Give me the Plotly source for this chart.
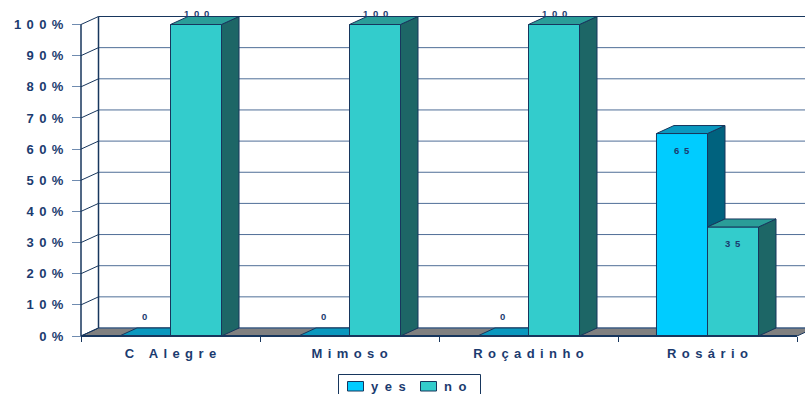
import plotly.graph_objects as go

# ---------------- data ----------------
categories = ["C Alegre", "Mimoso", "Roçadinho", "Rosário"]
yes_values = [0, 0, 0, 65]
no_values = [100, 100, 100, 35]
series_names = ["yes", "no"]
y_ticks = [0, 10, 20, 30, 40, 50, 60, 70, 80, 90, 100]
y_tick_labels = [f"{v}%" for v in y_ticks]

# ---------------- style ----------------
FONT = "Liberation Sans, Arial, sans-serif"
TXT = "#1B3B6F"
NAVY = "#17365D"
GRID = "#4F6E97"
TICK = "#6F8BB0"
YES_FRONT, YES_TOP, YES_SIDE = "#00CCFF", "#0A98BF", "#00627E"
NO_FRONT, NO_TOP, NO_SIDE = "#33CCCC", "#2A9D98", "#1D6666"
FLOOR = "#808080"

W, H = 805, 394
PL, PR, PT, PB = 60, 0, 8, 54
X_PX, Y_PX = 179.0, 3.115      # pixels per category / per percent
X0_PX, Y0_PX = 81, 336         # pixel of front-left corner (x=-0.5, y=0)
plot_w, plot_h = W - PL - PR, H - PT - PB
xr = [-0.5 - (X0_PX - PL) / X_PX, -0.5 + (W - PR - X0_PX) / X_PX]
yr = [-(H - PB - Y0_PX) / Y_PX, (Y0_PX - PT) / Y_PX]
DX, DY = 17.5 / X_PX, 8 / Y_PX  # 3-D depth offset
BW = 0.285                      # bar width (category units)
n = len(categories)
idx = list(range(n))

GAP = "\u2005\u2006"


def sp(s, gap=GAP):
    return gap.join(s)


def px_x(p):
    return (p - PL) / plot_w


def px_y(p):
    return (H - PB - p) / plot_h


fig = go.Figure()

# front faces
fig.add_bar(x=idx, y=yes_values, width=BW, offset=-BW, name=series_names[0],
            marker=dict(color=YES_FRONT, line=dict(color=NAVY, width=1)),
            showlegend=False, hoverinfo="skip")
fig.add_bar(x=idx, y=no_values, width=BW, offset=0, name=series_names[1],
            marker=dict(color=NO_FRONT, line=dict(color=NAVY, width=1)),
            showlegend=False, hoverinfo="skip")


def face(xs, ys, color):
    fig.add_scatter(x=xs + [xs[0]], y=ys + [ys[0]], mode="lines", fill="toself",
                    fillcolor=color, line=dict(color=NAVY, width=1),
                    showlegend=False, hoverinfo="skip")


for i in idx:
    a, b = yes_values[i], no_values[i]
    x0, x1, x2 = i - BW, i, i + BW
    # yes bar: side (visible part above the neighbouring "no" bar)
    if a > b:
        face([x1, x1, x1 + DX, x1 + DX], [b, a, a + DY, b + DY], YES_SIDE)
    # yes bar: top
    if b >= a + DY:
        face([x0, x1, x1, x0 + DX], [a, a, a + DY, a + DY], YES_TOP)
    else:
        face([x0, x1, x1 + DX, x0 + DX], [a, a, a + DY, a + DY], YES_TOP)
    # no bar: side and top
    face([x2, x2, x2 + DX, x2 + DX], [0, b, b + DY, DY], NO_SIDE)
    face([x1, x2, x2 + DX, x1 + DX], [b, b, b + DY, b + DY], NO_TOP)

shapes = []
xl = -0.5
xend = n - 0.5
# floor
shapes.append(dict(type="path", layer="below",
                   path=f"M{xl},0 L{xend},0 L{xend + DX},{DY} L{xl + DX},{DY} Z",
                   fillcolor=FLOOR, line=dict(color=NAVY, width=1)))
# back wall gridlines + side wall lines
for v in y_ticks:
    shapes.append(dict(type="line", layer="below", x0=xl + DX, x1=xr[1],
                       y0=v + DY, y1=v + DY,
                       line=dict(color=NAVY if v == 100 else GRID, width=1)))
    shapes.append(dict(type="line", layer="below", x0=xl, x1=xl + DX,
                       y0=v, y1=v + DY, line=dict(color=NAVY, width=1)))
shapes.append(dict(type="line", layer="below", x0=xl + DX, x1=xl + DX,
                   y0=DY, y1=100 + DY, line=dict(color=NAVY, width=1.5)))
# front axis lines
shapes.append(dict(type="line", layer="above", x0=xl, x1=xl, y0=0, y1=100,
                   line=dict(color=NAVY, width=1.5)))
shapes.append(dict(type="line", layer="above", x0=xl, x1=xend, y0=0, y1=0,
                   line=dict(color=NAVY, width=2)))

# legend (custom box)
shapes.append(dict(type="rect", xref="paper", yref="paper",
                   x0=px_x(338.5), x1=px_x(480.5), y0=px_y(400), y1=px_y(374.5),
                   fillcolor="white", line=dict(color=NAVY, width=1)))
leg_items = [(347.5, 369, YES_FRONT, series_names[0]),
             (420.5, 442, NO_FRONT, series_names[1])]
annotations = []
for sx, tx, col, name in leg_items:
    shapes.append(dict(type="rect", xref="paper", yref="paper",
                       x0=px_x(sx), x1=px_x(sx + 16), y0=px_y(391), y1=px_y(381.5),
                       fillcolor=col, line=dict(color=NAVY, width=1)))
    annotations.append(dict(xref="paper", yref="paper", x=px_x(tx), y=px_y(386.5),
                            xanchor="left", yanchor="middle", showarrow=False,
                            text=sp(name, "\u2002"),
                            font=dict(family=FONT, size=13, color=TXT, weight="bold")))

# data labels
for i in idx:
    for val, cx in ((yes_values[i], i - BW / 2), (no_values[i], i + BW / 2)):
        if val == 0:
            ly = val + 6.4
        elif val >= 100:
            ly = val + 3.4
        else:
            ly = val - 5.3
        annotations.append(dict(x=cx, y=ly, xref="x", yref="y", showarrow=False,
                                text=sp(str(val), "\u2002"), xanchor="center",
                                yanchor="middle",
                                font=dict(family=FONT, size=9.5, color=TXT, weight="bold")))

fig.update_layout(
    width=W, height=H, autosize=False,
    margin=dict(l=PL, r=PR, t=PT, b=PB),
    paper_bgcolor="white", plot_bgcolor="white",
    barmode="overlay", showlegend=False,
    shapes=shapes, annotations=annotations,
    font=dict(family=FONT, color=TXT),
    xaxis=dict(range=xr, tickmode="array", tickvals=idx,
               ticktext=[sp(c) for c in categories], ticks="",
               showgrid=False, zeroline=False, showline=False,
               anchor="free", position=(H - PB - Y0_PX) / plot_h,
               ticklabelstandoff=8,
               tickfont=dict(family=FONT, size=13, color=TXT, weight="bold"),
               minor=dict(tickmode="array", tickvals=[k - 0.5 for k in range(n + 1)],
                          ticks="outside", ticklen=5, tickcolor=NAVY, tickwidth=1,
                          showgrid=False),
               fixedrange=True),
    yaxis=dict(range=yr, tickmode="array", tickvals=y_ticks,
               ticktext=[sp(t) for t in y_tick_labels],
               ticks="outside", ticklen=9, tickcolor=TICK, tickwidth=1,
               showgrid=False, zeroline=False, showline=False,
               anchor="free", position=(X0_PX - PL) / plot_w,
               ticklabelstandoff=6,
               tickfont=dict(family=FONT, size=13, color=TXT, weight="bold"),
               fixedrange=True),
)

fig.write_html("out.html")
